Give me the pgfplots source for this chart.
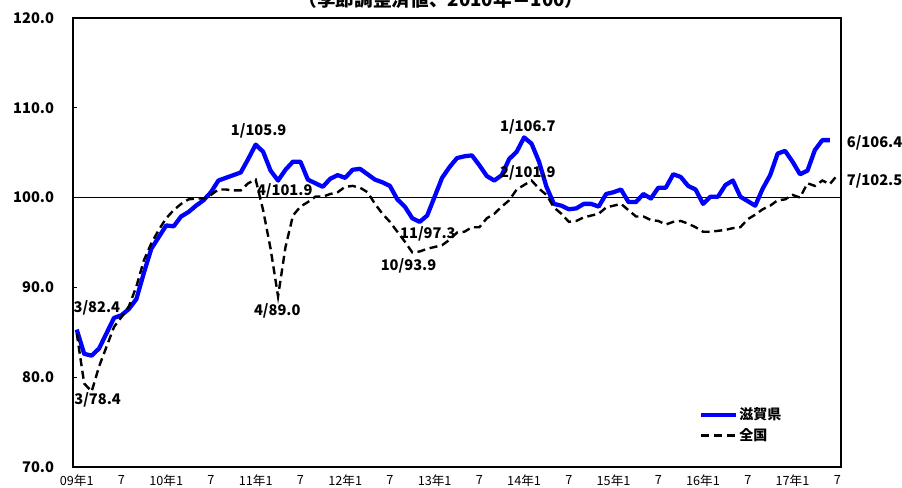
\documentclass[border=0pt]{standalone}
\usepackage{fontspec}
\setmainfont{Noto Sans CJK JP}
\usepackage{pgfplots}
\usepackage{pgfplotstable}
\pgfplotsset{compat=1.18}

% 鉱工業生産指数（季節調整済値、2010年=100）, 2009年1月 = 0
\pgfplotstableread{
m v
0 85.3
1 82.6
2 82.4
3 83.2
4 84.9
5 86.6
6 86.9
7 87.6
8 88.7
9 91.6
10 94.3
11 95.6
12 96.9
13 96.8
14 97.9
15 98.4
16 99.1
17 99.7
18 100.6
19 101.9
20 102.2
21 102.5
22 102.8
23 104.3
24 105.9
25 105.1
26 103.0
27 101.9
28 103.1
29 104.0
30 104.0
31 102.0
32 101.6
33 101.2
34 102.1
35 102.5
36 102.2
37 103.1
38 103.2
39 102.6
40 102.0
41 101.7
42 101.3
43 99.8
44 99.0
45 97.7
46 97.3
47 98.0
48 100.1
49 102.2
50 103.4
51 104.4
52 104.6
53 104.7
54 103.6
55 102.4
56 101.9
57 102.5
58 104.3
59 105.1
60 106.7
61 106.0
62 104.0
63 101.2
64 99.3
65 99.1
66 98.7
67 98.8
68 99.3
69 99.3
70 99.0
71 100.4
72 100.6
73 100.9
74 99.5
75 99.5
76 100.4
77 99.9
78 101.1
79 101.1
80 102.6
81 102.3
82 101.3
83 100.9
84 99.3
85 100.1
86 100.1
87 101.4
88 101.9
89 100.1
90 99.6
91 99.1
92 101.0
93 102.5
94 104.9
95 105.2
96 104.0
97 102.6
98 103.0
99 105.3
100 106.4
101 106.4
}\shiga

\pgfplotstableread{
m v
0 84.9
1 79.3
2 78.4
3 81.2
4 83.4
5 85.6
6 86.7
7 87.9
8 90.1
9 93.0
10 94.9
11 96.4
12 97.7
13 98.6
14 99.3
15 99.8
16 99.9
17 99.9
18 100.3
19 100.9
20 100.9
21 100.8
22 100.8
23 101.6
24 102.0
25 98.6
26 94.3
27 89.0
28 94.5
29 98.0
30 99.0
31 99.5
32 100.1
33 100.1
34 100.4
35 100.6
36 101.2
37 101.3
38 101.1
39 100.6
40 99.3
41 98.2
42 97.3
43 96.2
44 95.1
45 93.9
46 94.0
47 94.3
48 94.5
49 94.7
50 95.3
51 96.1
52 96.2
53 96.7
54 96.7
55 97.7
56 98.2
57 99.0
58 99.7
59 100.9
60 101.4
61 101.9
62 101.0
63 100.3
64 98.9
65 98.2
66 97.3
67 97.4
68 97.8
69 98.0
70 98.2
71 98.9
72 99.1
73 99.3
74 98.6
75 97.9
76 97.9
77 97.5
78 97.4
79 97.0
80 97.3
81 97.4
82 97.1
83 96.7
84 96.2
85 96.2
86 96.3
87 96.4
88 96.6
89 96.7
90 97.6
91 98.1
92 98.7
93 99.1
94 99.7
95 99.8
96 100.3
97 100.0
98 101.6
99 101.3
100 101.9
101 101.5
102 102.5
}\zenkoku

\tikzset{val/.style={font=\fontsize{11pt}{13pt}\selectfont\bfseries, inner sep=0pt}}

\begin{document}
\begin{tikzpicture}
\begin{axis}[
  at={(0,0)}, anchor=south west,
  scale only axis, width=576pt, height=336.75pt,
  xmin=-0.5, xmax=102.5, ymin=70, ymax=120,
  axis line style={line width=1.5pt, black},
  xtick={0,6,...,102},
  xticklabels={09年1,7,10年1,7,11年1,7,12年1,7,13年1,7,14年1,7,15年1,7,16年1,7,17年1,7},
  ytick={70,80,90,100,110,120},
  yticklabels={70.0,80.0,90.0,100.0,110.0,120.0},
  tick align=inside, major tick length=3pt,
  ytick pos=left,
  xtick style={draw=none},
  ytick style={black, line width=0.6pt},
  yticklabel style={font=\fontsize{11pt}{13pt}\selectfont\bfseries, inner sep=0pt, xshift=-14pt},
  xticklabel style={font=\fontsize{9.5pt}{11pt}\selectfont, inner sep=0pt, yshift=-6pt},
  clip mode=individual,
  legend style={at={(0.815,0.135)}, anchor=north west, draw=none, fill=none,
    inner sep=0pt, font=\fontsize{10.5pt}{12pt}\selectfont\bfseries,
    row sep=3pt, nodes={inner sep=1pt}},
  legend cell align=left,
  legend image code/.code={\draw[#1] (0pt,0pt) -- (26pt,0pt);},
]
\draw[black, line width=0.7pt] (axis cs:-0.5,100) -- (axis cs:102.5,100);

\addplot[blue, line width=3.2pt, line join=round] table[x=m, y=v] {\shiga};
\addlegendentry{滋賀県}
\addplot[black, line width=1.8pt, dash pattern=on 6pt off 3.5pt] table[x=m, y=v] {\zenkoku};
\addlegendentry{全国}

\node[val] at (axis cs:24.4,107.4) {1/105.9};
\node[val] at (axis cs:27.9,100.8) {4/101.9};
\node[val] at (axis cs:26.9,87.4) {4/89.0};
\node[val] at (axis cs:2.7,87.7) {3/82.4};
\node[val] at (axis cs:2.8,77.5) {3/78.4};
\node[val] at (axis cs:47.1,96.0) {11/97.3};
\node[val] at (axis cs:44.5,92.4) {10/93.9};
\node[val] at (axis cs:60.5,107.9) {1/106.7};
\node[val] at (axis cs:60.5,102.8) {2/101.9};
\node[val] at (axis cs:107.0,106.1) {6/106.4};
\node[val] at (axis cs:107.0,101.9) {7/102.5};
\end{axis}
\node[anchor=base, font=\fontsize{14pt}{16pt}\selectfont\bfseries] at (276pt,345.5pt) {（季節調整済値、2010年＝100）};
\pgfresetboundingbox
\path[use as bounding box] (-54.75pt,-15.75pt) rectangle (621.75pt,350.25pt);
\end{tikzpicture}
\end{document}
